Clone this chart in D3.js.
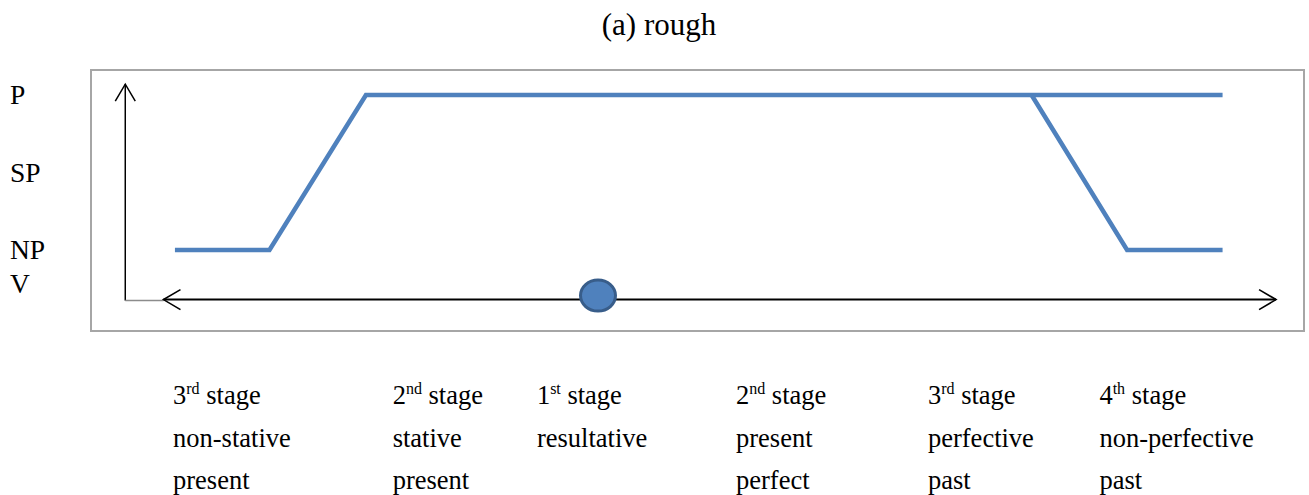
<!DOCTYPE html>
<html>
<head>
<meta charset="utf-8">
<script src="https://cdn.jsdelivr.net/npm/d3@7"></script>
<style>
  html, body { margin: 0; padding: 0; background: #fff; }
  svg text { font-family: "Times New Roman", "Liberation Serif", Times, "DejaVu Serif", serif; }
</style>
</head>
<body>
<svg id="chart" width="1309" height="495"></svg>
<script>
// ---- data ----
const title = "(a) rough";
const levelNames = ["P", "SP", "NP", "V"];
const levelValues = [3, 2, 1, 0.56];
// path 1 (timeline position, level)
const path1X = [-4.43, -3.44, -2.43, 6.54];
const path1Y = [1, 1, 3, 3];
// path 2
const path2X = [4.54, 5.54, 6.54];
const path2Y = [3, 1, 1];
// present moment marker
const markerX = [0];
// timeline extent and baseline level
const timelineStart = -4.55;
const timelineEnd = 7.1;
const timelineLevel = 0.36;
const yAxisX = -4.95;
const yAxisTop = 3.14;
// stage labels
const stageNum = ["3", "2", "1", "2", "3", "4"];
const stageSup = ["rd", "nd", "st", "nd", "rd", "th"];
const stageLine2 = ["non-stative", "stative", "resultative", "present", "perfective", "non-perfective"];
const stageLine3 = ["present", "present", "", "perfect", "past", "past"];
const stageX = [-4.45, -2.15, -0.64, 1.445, 3.455, 5.25];

// ---- drawing ----
const svg = d3.select("#chart");
const x = d3.scaleLinear().domain([0, 1]).range([598, 693.5]);
const y = d3.scaleLinear().domain([1, 3]).range([250, 95]);
const blue = "#4f81bd";

svg.append("text").attr("x", 659).attr("y", 35).attr("text-anchor", "middle")
  .attr("font-size", 31).attr("fill", "#000").text(title);

// frame
svg.append("rect").attr("x", 91).attr("y", 70).attr("width", 1213).attr("height", 261)
  .attr("fill", "none").attr("stroke", "#a6a6a6").attr("stroke-width", 2);

// y level labels
svg.selectAll("text.level").data(levelNames).join("text").attr("class", "level")
  .attr("x", 10).attr("y", (d, i) => y(levelValues[i]) + 9)
  .attr("font-size", 27.5).attr("fill", "#000").text(d => d);

// vertical axis arrow
const ax = x(yAxisX), ay0 = y(timelineLevel) + 1, ay1 = y(yAxisTop);
svg.append("line").attr("x1", ax).attr("x2", ax).attr("y1", ay0).attr("y2", ay1)
  .attr("stroke", "#000").attr("stroke-width", 1.5);
svg.append("path").attr("d", `M${ax - 10},${ay1 + 17}L${ax},${ay1}L${ax + 10},${ay1 + 17}`)
  .attr("fill", "none").attr("stroke", "#000").attr("stroke-width", 1.5);

// gray stub
const ty = y(timelineLevel);
svg.append("line").attr("x1", ax).attr("x2", x(timelineStart)).attr("y1", ty + 1).attr("y2", ty + 1)
  .attr("stroke", "#8c8c8c").attr("stroke-width", 1.5);

// timeline double arrow
const tx0 = x(timelineStart), tx1 = x(timelineEnd);
svg.append("line").attr("x1", tx0).attr("x2", tx1).attr("y1", ty).attr("y2", ty)
  .attr("stroke", "#000").attr("stroke-width", 2);
svg.append("path").attr("d", `M${tx0 + 17},${ty - 10}L${tx0},${ty}L${tx0 + 17},${ty + 10}`)
  .attr("fill", "none").attr("stroke", "#000").attr("stroke-width", 1.6);
svg.append("path").attr("d", `M${tx1 - 17},${ty - 10}L${tx1},${ty}L${tx1 - 17},${ty + 10}`)
  .attr("fill", "none").attr("stroke", "#000").attr("stroke-width", 1.6);

// blue paths
const line = d3.line().x(d => x(d[0])).y(d => y(d[1]));
svg.append("path").datum(path1X.map((v, i) => [v, path1Y[i]])).attr("d", line)
  .attr("fill", "none").attr("stroke", blue).attr("stroke-width", 4.5);
svg.append("path").datum(path2X.map((v, i) => [v, path2Y[i]])).attr("d", line)
  .attr("fill", "none").attr("stroke", blue).attr("stroke-width", 4.5);

// marker
svg.selectAll("ellipse.marker").data(markerX).join("ellipse").attr("class", "marker")
  .attr("cx", d => x(d)).attr("cy", ty - 4).attr("rx", 17.5).attr("ry", 15.5)
  .attr("fill", blue).attr("stroke", "#385d8a").attr("stroke-width", 3);

// stage labels
const g = svg.selectAll("g.stage").data(stageX).join("g").attr("class", "stage")
  .attr("transform", d => `translate(${x(d)},0)`);
const t1 = g.append("text").attr("y", 404).attr("font-size", 26.5).attr("fill", "#000");
t1.append("tspan").text((d, i) => stageNum[i]);
t1.append("tspan").attr("font-size", 16).attr("dy", -10).text((d, i) => stageSup[i]);
t1.append("tspan").attr("dy", 10).text(" stage");
g.append("text").attr("y", 447).attr("font-size", 26.5).attr("fill", "#000").text((d, i) => stageLine2[i]);
g.append("text").attr("y", 489).attr("font-size", 26.5).attr("fill", "#000").text((d, i) => stageLine3[i]);
</script>
</body>
</html>
